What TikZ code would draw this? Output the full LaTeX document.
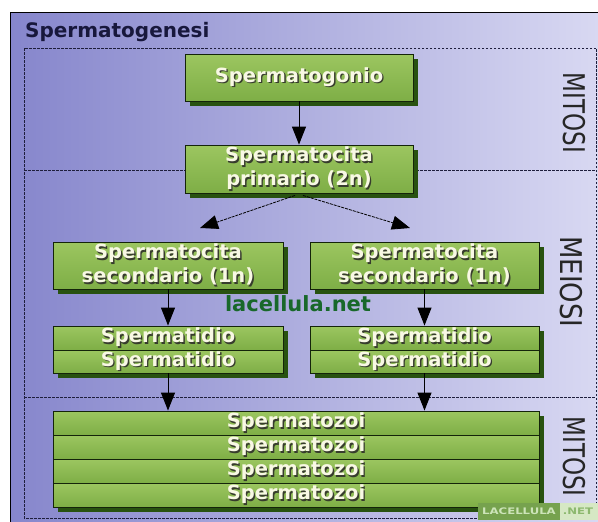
\documentclass[tikz,border=0pt]{standalone}
\usepackage{fontspec}
\setmainfont{DejaVu Sans}
\usetikzlibrary{arrows.meta,shadows}
\definecolor{bgL}{RGB}{134,134,204}
\definecolor{bgR}{RGB}{216,216,242}
\definecolor{gTop}{RGB}{156,198,96}
\definecolor{gBot}{RGB}{126,174,70}
\definecolor{gEdge}{RGB}{20,36,10}
\definecolor{gShadow}{RGB}{40,82,16}
\definecolor{txtc}{RGB}{248,248,228}
\definecolor{txtsh}{RGB}{55,60,45}
\definecolor{netgreen}{RGB}{24,104,42}
\definecolor{titlec}{RGB}{24,24,60}
\definecolor{dashc}{RGB}{30,30,60}
\definecolor{wmg}{RGB}{118,162,78}
\definecolor{wmt}{RGB}{205,228,185}
\definecolor{wml}{RGB}{214,232,196}
\definecolor{wmlt}{RGB}{140,184,110}
\newcommand{\shtxt}[1]{\leavevmode\rlap{\hspace{1.4pt}\raisebox{-1.4pt}{\textcolor{txtsh}{#1}}}\textcolor{txtc}{#1}}
\tikzset{
  gbox/.style={draw=gEdge, line width=0.9pt, top color=gTop, bottom color=gBot,
    minimum width=#1, inner sep=0pt, align=center,
    font=\fontsize{19.5}{24}\selectfont\bfseries,
    drop shadow={shadow xshift=5pt, shadow yshift=-5pt, fill=gShadow, opacity=1}},
  arr/.style={-{Triangle[width=14pt,length=18pt]}, line width=1pt, black},
  darr/.style={arr, dash pattern=on 3pt off 1pt, line width=0.8pt},
  dsh/.style={draw=dashc, line width=0.9pt, dash pattern=on 2.5pt off 1.5pt},
  phase/.style={rotate=-90, inner sep=0pt, text=black!85}
}
\begin{document}
\begin{tikzpicture}[x=1pt,y=-1pt]
\useasboundingbox (0,0) rectangle (598,522);
% background frame
\fill[left color=bgL, right color=bgR] (10,12) rectangle (598,522);
\draw[line width=1pt, black] (598,12) -- (10,12) -- (10,522);
% dashed phase regions
\draw[dsh] (24,48) rectangle (596,518);
\draw[dsh] (24,170) -- (596,170);
\draw[dsh] (24,397) -- (596,397);
% title
\node[anchor=base west, inner sep=0pt, text=titlec, font=\fontsize{20}{20}\selectfont\bfseries] (title) at (25,37.3) {Spermatogenesi};
% boxes
\node[gbox=228pt, minimum height=47pt] (gonio) at (299,77.5) {\shtxt{Spermatogonio}};
\node[gbox=228pt, minimum height=48pt] (prim) at (299,169) {\shtxt{Spermatocita}\\\shtxt{primario (2n)}};
\node[gbox=230pt, minimum height=47pt] (secL) at (168,265.5) {\shtxt{Spermatocita}\\\shtxt{secondario (1n)}};
\node[gbox=229pt, minimum height=47pt] (secR) at (424.5,265.5) {\shtxt{Spermatocita}\\\shtxt{secondario (1n)}};
\node[gbox=230pt, minimum height=24pt] (tidLa) at (168,338) {\shtxt{Spermatidio}};
\node[gbox=230pt, minimum height=23pt] (tidLb) at (168,361.5) {\shtxt{Spermatidio}};
\node[gbox=229pt, minimum height=24pt] (tidRa) at (424.5,338) {\shtxt{Spermatidio}};
\node[gbox=229pt, minimum height=23pt] (tidRb) at (424.5,361.5) {\shtxt{Spermatidio}};
\node[gbox=486pt, minimum height=24pt] (zoi1) at (296,423) {\shtxt{Spermatozoi}};
\node[gbox=486pt, minimum height=24pt] (zoi2) at (296,447) {\shtxt{Spermatozoi}};
\node[gbox=486pt, minimum height=24pt] (zoi3) at (296,471) {\shtxt{Spermatozoi}};
\node[gbox=486pt, minimum height=24pt] (zoi4) at (296,495) {\shtxt{Spermatozoi}};
% arrows
\coordinate (tipL) at (200,228);
\coordinate (tipR) at (410,228);
\draw[arr] (gonio.south) -- (prim.north);
\draw[darr] ([xshift=-4pt,yshift=-2pt]prim.south) -- (tipL);
\draw[darr] ([xshift=4pt,yshift=-2pt]prim.south) -- (tipR);
\draw[arr] (secL.south) -- (tidLa.north);
\draw[arr] (secR.south) -- (tidRa.north);
\draw[arr] (tidLb.south) -- (tidLb.south |- zoi1.north);
\draw[arr] (tidRb.south) -- (tidRb.south |- zoi1.north);
% phase labels
\node[phase, font=\fontsize{23}{23}\selectfont] (mit1) at (574,113) {\scalebox{1}[1.3]{MITOSI}};
\node[phase, font=\fontsize{26}{26}\selectfont] (mei) at (571,282) {\scalebox{1}[1.15]{MEIOSI}};
\node[phase, font=\fontsize{23}{23}\selectfont] (mit2) at (574,456.5) {\scalebox{1}[1.3]{MITOSI}};
% watermark text
\node[inner sep=0pt, text=netgreen, font=\fontsize{21}{21}\selectfont\bfseries] (net) at (298,304) {lacellula.net};
% corner watermark
\fill[wmg] (478,503) rectangle (560,520);
\fill[wml] (560,503) rectangle (598,520);
\node[inner sep=0pt, text=wmt, font=\fontsize{9}{9}\selectfont\bfseries] (wm1) at (519,511.5) {\scalebox{1.3}[1]{LACELLULA}};
\node[inner sep=0pt, text=wmlt, font=\fontsize{9}{9}\selectfont\bfseries] (wm2) at (578,511.5) {\scalebox{1.3}[1]{.NET}};
\end{tikzpicture}
\end{document}
